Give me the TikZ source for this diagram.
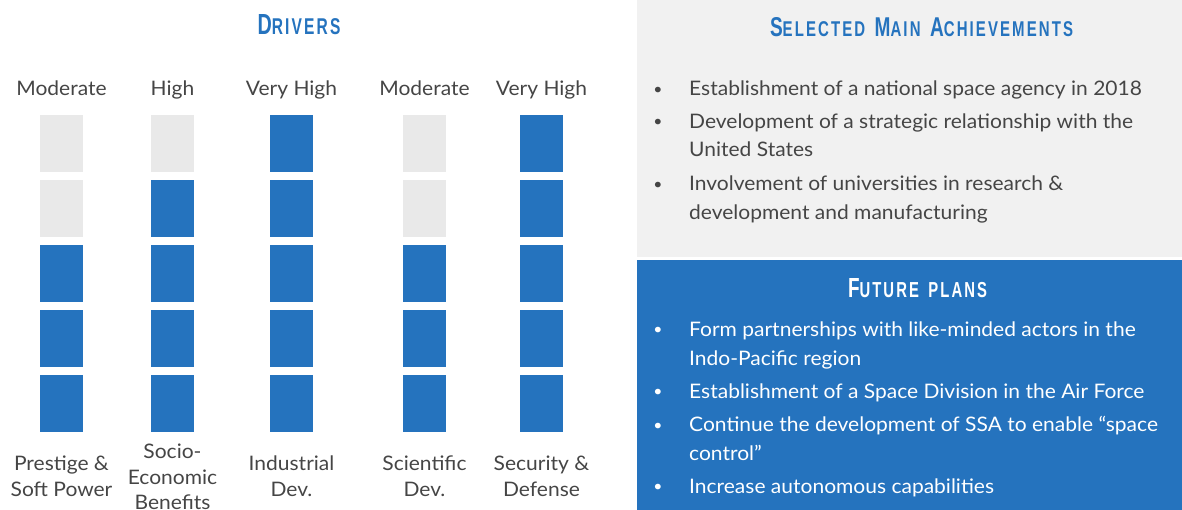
\documentclass[tikz,border=0pt]{standalone}
\usepackage{fontspec}
\setmainfont{Lato}[FakeStretch=1.05]
\newfontfamily\headfont{Liberation Sans}[LetterSpace=14]
\usepackage{graphicx}
\definecolor{blu}{HTML}{2573BE}
\definecolor{lgray}{HTML}{E9E9E9}
\definecolor{panel}{HTML}{F1F1F1}
\definecolor{txt}{HTML}{454545}
\newcommand{\bigc}[1]{{\fontsize{28}{28}\selectfont #1}}
\newcommand{\smc}[1]{{\fontsize{22}{22}\selectfont #1}}
\newcommand{\wsp}{\hspace{14pt}}
\begin{document}
\begin{tikzpicture}[x=1pt,y=-1pt,
  bar/.style={minimum width=43pt,minimum height=57pt,inner sep=0pt,anchor=north,draw=none},
  lbl/.style={font=\fontsize{20}{24}\selectfont,text=txt,inner sep=0pt,anchor=base},
  item/.style={font=\fontsize{20}{24}\selectfont,text=txt,inner sep=0pt,anchor=base west},
  bul/.style={font=\fontsize{15}{18}\selectfont,text=txt,inner sep=0pt,anchor=base,yshift=1.5pt},
  witem/.style={item,text=white},
  wbul/.style={bul,text=white},
  ttl/.style={inner sep=0pt,anchor=base,font=\headfont\bfseries}]
\useasboundingbox (0,0) rectangle (1182,510);
% right panels
\path[fill=panel] (637,0) rectangle (1182,257);
\path[fill=blu] (637,260) rectangle (1182,510);
% titles
\node[ttl,text=blu] (tdrv) at (299,35) {\resizebox{83pt}{20pt}{\bigc{D}\smc{RIVERS}}};
\node[ttl,text=blu] (tach) at (921.5,37) {\resizebox{303pt}{19pt}{\bigc{S}\smc{ELECTED}\wsp\bigc{M}\smc{AIN}\wsp\bigc{A}\smc{CHIEVEMENTS}}};
\node[ttl,text=white] (tfut) at (917.5,298) {\resizebox{139pt}{19pt}{\bigc{F}\smc{UTURE}\wsp\smc{PLANS}}};
% bars
\foreach \x/\n/\lev [count=\c] in {61.5/2/Moderate,172.5/1/High,291.5/0/Very High,424.5/2/Moderate,541.5/0/Very High}{
  \node[lbl] (lev\c) at (\x,96) {\lev};
  \foreach \r in {1,...,5}{
    \ifnum\r>\n \def\fc{blu}\else\def\fc{lgray}\fi
    \node[bar,fill=\fc] (c\c r\r) at (\x,{115+65*(\r-1)}) {};
  }
}
% bottom labels
\node[lbl] (p1a) at (61.5,470.7) {Prestige \&};
\node[lbl] (p1b) at (61.5,496.7) {Soft Power};
\node[lbl] (p2a) at (172.5,458) {Socio-};
\node[lbl] (p2b) at (172.5,484) {Economic};
\node[lbl] (p2c) at (172.5,509.5) {Benefits};
\node[lbl] (p3a) at (291.5,470.7) {Industrial};
\node[lbl] (p3b) at (291.5,496.7) {Dev.};
\node[lbl] (p4a) at (424.5,470.7) {Scientific};
\node[lbl] (p4b) at (424.5,496.7) {Dev.};
\node[lbl] (p5a) at (541.5,470.7) {Security \&};
\node[lbl] (p5b) at (541.5,496.7) {Defense};
% achievements
\node[bul] (ab1) at (658,95.7) {•};
\node[item] (a1) at (689,95.7) {Establishment of a national space agency in 2018};
\node[bul] (ab2) at (658,128.3) {•};
\node[item] (a2a) at (689,128.3) {Development of a strategic relationship with the};
\node[item] (a2b) at (689,156.7) {United States};
\node[bul] (ab3) at (658,190.7) {•};
\node[item] (a3a) at (689,190.7) {Involvement of universities in research \&};
\node[item] (a3b) at (689,219.5) {development and manufacturing};
% future plans
\node[wbul] (fb1) at (658,336) {•};
\node[witem] (f1a) at (689,336) {Form partnerships with like-minded actors in the};
\node[witem] (f1b) at (689,365) {Indo-Pacific region};
\node[wbul] (fb2) at (658,398.3) {•};
\node[witem] (f2) at (689,398.3) {Establishment of a Space Division in the Air Force};
\node[wbul] (fb3) at (658,431.7) {•};
\node[witem] (f3a) at (689,431.7) {Continue the development of SSA to enable “space};
\node[witem] (f3b) at (689,460.7) {control”};
\node[wbul] (fb4) at (658,493.3) {•};
\node[witem] (f4) at (689,493.3) {Increase autonomous capabilities};
\end{tikzpicture}
\end{document}
